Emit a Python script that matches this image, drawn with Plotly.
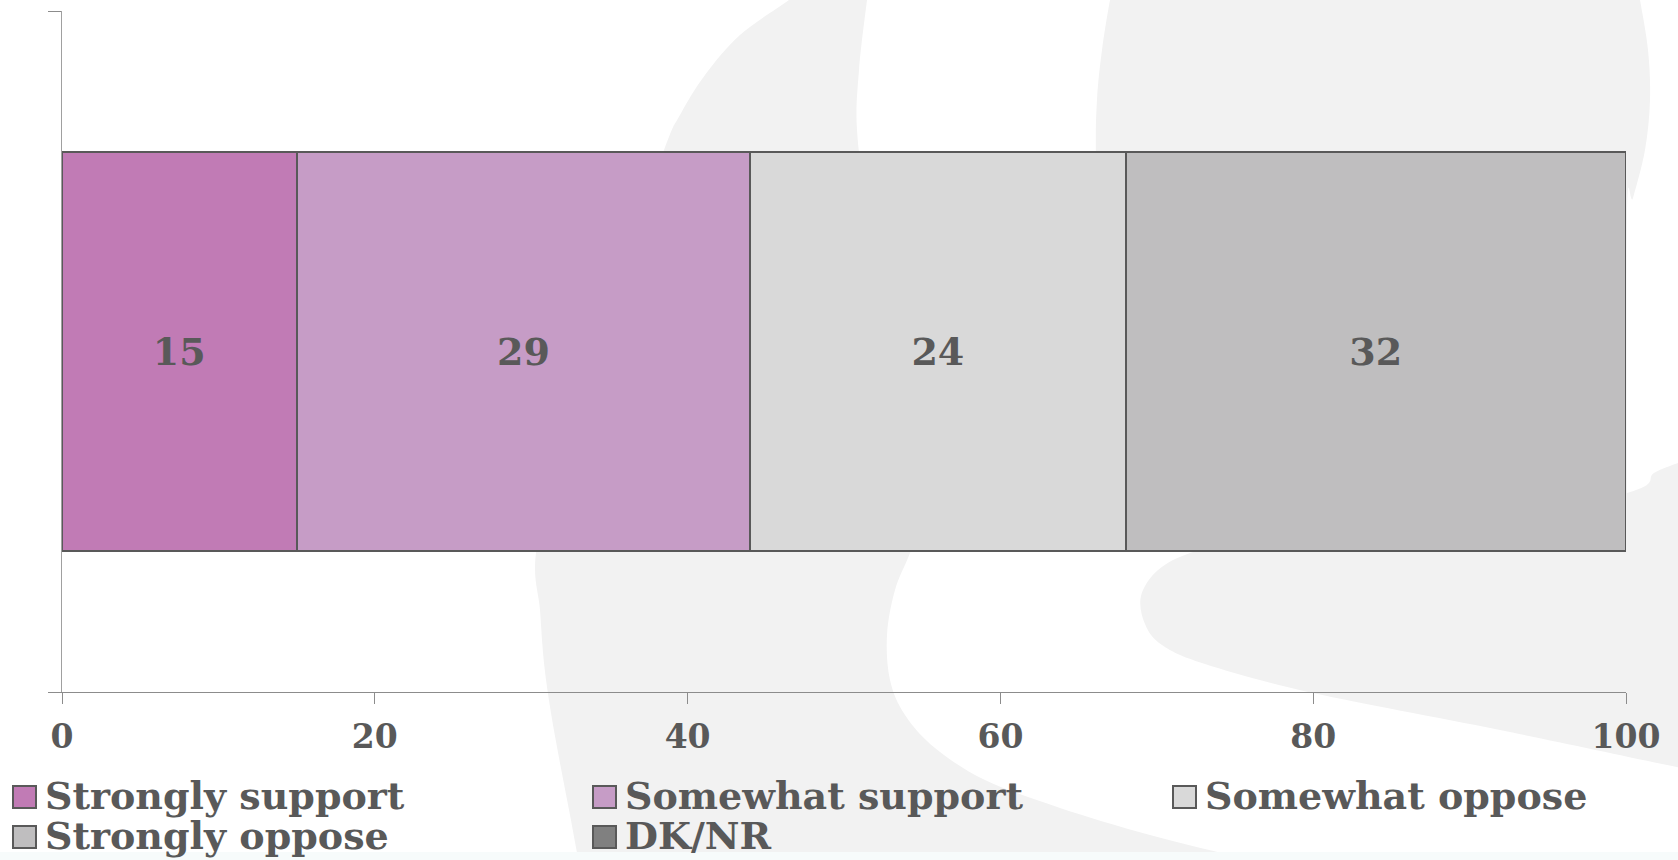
import plotly.graph_objects as go

# ---------------- data ----------------
categories = ["Support"]
series_names = ["Strongly support", "Somewhat support", "Somewhat oppose", "Strongly oppose", "DK/NR"]
series_values = [15, 29, 24, 32, 0]
series_colors = ["#C17BB5", "#C69CC6", "#D9D9D9", "#BFBEBF", "#808080"]
x_tick_values = [0, 20, 40, 60, 80, 100]
x_tick_labels = ["0", "20", "40", "60", "80", "100"]

# ---------------- layout constants ----------------
W, H = 1678, 860
ML, MR, MT, MB = 62, 52, 11, 168
PW = W - ML - MR
PH = H - MT - MB
FONT = "DejaVu Serif, serif"
TXT = "#595959"


def to_paper(x, y):
    return (x - ML) / PW, (H - MB - y) / PH


def smooth_chain(pts):
    """Catmull-Rom chain -> list of SVG cubic segments (paper coords)."""
    segs = []
    n = len(pts)
    for i in range(n - 1):
        p0 = pts[i - 1] if i > 0 else pts[i]
        p1 = pts[i]
        p2 = pts[i + 1]
        p3 = pts[i + 2] if i + 2 < n else pts[i + 1]
        c1 = (p1[0] + (p2[0] - p0[0]) / 6, p1[1] + (p2[1] - p0[1]) / 6)
        c2 = (p2[0] - (p3[0] - p1[0]) / 6, p2[1] - (p3[1] - p1[1]) / 6)
        a = to_paper(*c1)
        b = to_paper(*c2)
        c = to_paper(*p2)
        segs.append(f"C{a[0]:.5f},{a[1]:.5f} {b[0]:.5f},{b[1]:.5f} {c[0]:.5f},{c[1]:.5f}")
    return segs


def shape_path(chains):
    start = to_paper(*chains[0][0])
    parts = [f"M{start[0]:.5f},{start[1]:.5f}"]
    for k, ch in enumerate(chains):
        if k > 0:
            p = to_paper(*ch[0])
            parts.append(f"L{p[0]:.5f},{p[1]:.5f}")
        parts.extend(smooth_chain(ch))
    parts.append("Z")
    return " ".join(parts)


# background watermark outlines (pixel space, decorative)
wm_a = [
    [(815, -20), (789, 0), (740, 35), (705, 75), (680, 115), (664, 150), (610, 300), (560, 450),
     (536, 553), (540, 610), (544, 663), (551, 713), (560, 763), (570, 815), (582, 880)],
    [(1330, 880), (1250, 860), (1150, 835), (1060, 808), (985, 780), (935, 748), (905, 715),
     (890, 680), (887, 635), (895, 590), (910, 553), (925, 510), (905, 350), (868, 200),
     (857, 130), (859, 70), (867, 0), (870, -20)],
]
wm_b = [
    [(1115, -20), (1110, 0), (1102, 50), (1097, 100), (1096, 160), (1100, 300), (1110, 540)],
    [(1627, 540), (1627, 215), (1633, 198), (1645, 150), (1650, 100), (1648, 50), (1640, 0), (1636, -20)],
]
wm_c = [
    [(1700, 455), (1678, 463), (1654, 473), (1627, 493), (1450, 530), (1260, 540)],
    [(1230, 545), (1190, 553), (1158, 570), (1141, 596), (1145, 624), (1162, 645),
     (1205, 664), (1313, 693), (1500, 730), (1700, 772)],
]

fig = go.Figure()

for name, val, col in zip(series_names, series_values, series_colors):
    fig.add_trace(go.Bar(
        y=categories,
        x=[val],
        orientation="h",
        name=name,
        width=0.587,
        marker=dict(color=col, line=dict(color=TXT, width=2)),
        text=[f"<b>{val}</b>" if val else ""],
        textposition="inside",
        insidetextanchor="middle",
        textangle=0,
        constraintext="none",
        textfont=dict(family=FONT, size=38, color=TXT),
        showlegend=False,
        hoverinfo="name+x",
    ))

shapes = []
for chains in (wm_a, wm_b, wm_c):
    shapes.append(dict(type="path", xref="paper", yref="paper", path=shape_path(chains),
                       fillcolor="#F2F2F2", line=dict(width=0), layer="below"))
# faint bottom strip
sx0, sy0 = to_paper(-5, 852)
sx1, sy1 = to_paper(W + 5, H + 5)
shapes.append(dict(type="rect", xref="paper", yref="paper", x0=sx0, y0=sy0, x1=sx1, y1=sy1,
                   fillcolor="#F7FBFB", line=dict(width=0), layer="below"))

# manual legend (larger swatches than plotly's built-in)
annotations = []
for i, (name, col) in enumerate(zip(series_names, series_colors)):
    row, c = divmod(i, 3)
    x0, y0 = to_paper(13 + 580 * c, 786 + 40 * row)
    x1, y1 = to_paper(36 + 580 * c, 808 + 40 * row)
    shapes.append(dict(type="rect", xref="paper", yref="paper", x0=x0, y0=y0, x1=x1, y1=y1,
                       fillcolor=col, line=dict(color=TXT, width=2), layer="above"))
    tx, ty = to_paper(43 + 580 * c, 795 + 40 * row)
    annotations.append(dict(text=f"<b>{name}</b>", xref="paper", yref="paper", x=tx, y=ty,
                            xanchor="left", yanchor="middle", showarrow=False,
                            font=dict(family=FONT, size=38, color=TXT)))

fig.update_layout(
    width=W, height=H, autosize=False,
    margin=dict(l=ML, r=MR, t=MT, b=MB, pad=0),
    paper_bgcolor="white", plot_bgcolor="rgba(0,0,0,0)",
    barmode="stack",
    showlegend=False,
    shapes=shapes,
    annotations=annotations,
    xaxis=dict(
        range=[0, 100], tickmode="array", tickvals=x_tick_values,
        ticktext=[f"<b>{t}</b>" for t in x_tick_labels],
        showline=True, linecolor="#8C8C8C", linewidth=1,
        ticks="outside", ticklen=11, tickcolor="#8C8C8C", tickwidth=1,
        showgrid=False, zeroline=False, fixedrange=True,
        tickfont=dict(family=FONT, size=33, color=TXT),
        ticklabelstandoff=4,
    ),
    yaxis=dict(
        type="category", range=[-0.5, 0.5],
        showline=True, linecolor="#A0A0A0", linewidth=1,
        ticks="outside", tickson="boundaries", ticklen=13, tickcolor="#8C8C8C", tickwidth=1,
        showticklabels=False, showgrid=False, zeroline=False, fixedrange=True,
    ),
)

fig.write_html("out.html")
